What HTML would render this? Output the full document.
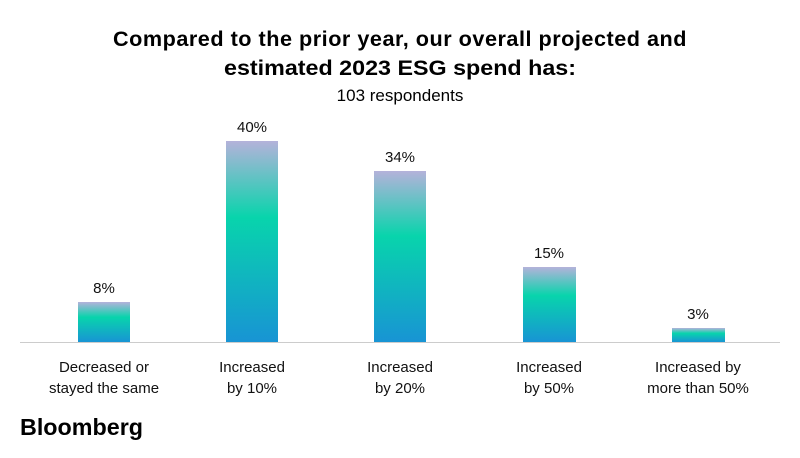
<!DOCTYPE html>
<html><head><style>
body{margin:0;background:#fff;}
svg text{font-family:"Liberation Sans",sans-serif;}
</style></head><body>
<svg width="800" height="453" viewBox="0 0 800 453" xmlns="http://www.w3.org/2000/svg">
<defs><linearGradient id="g" x1="0" y1="0" x2="0" y2="1">
<stop offset="0" stop-color="#b4b2da"/><stop offset="0.38" stop-color="#08d4ac"/><stop offset="1" stop-color="#1894d4"/></linearGradient></defs>
<rect width="800" height="453" fill="#fff"/>
<text x="400" y="46" text-anchor="middle" font-size="21" font-weight="bold" fill="#000" letter-spacing="0.5" textLength="574" lengthAdjust="spacingAndGlyphs">Compared to the prior year, our overall projected and</text>
<text x="400" y="75" text-anchor="middle" font-size="21" font-weight="bold" fill="#000" textLength="352" lengthAdjust="spacingAndGlyphs">estimated 2023 ESG spend has:</text>
<text x="400" y="101" text-anchor="middle" font-size="17" fill="#000">103 respondents</text>
<line x1="20" y1="342.5" x2="780" y2="342.5" stroke="#ccc" stroke-width="1"/>
<g fill="url(#g)">
<rect x="78" y="302" width="52" height="40"/>
<rect x="226" y="141" width="52" height="201"/>
<rect x="374" y="171" width="52" height="171"/>
<rect x="523" y="267" width="53" height="75"/>
<rect x="672" y="328" width="53" height="14"/>
</g>
<g font-size="15" text-anchor="middle" fill="#111">
<text x="104" y="293">8%</text>
<text x="252" y="132">40%</text>
<text x="400" y="162">34%</text>
<text x="549" y="258">15%</text>
<text x="698" y="319">3%</text>
<text x="104" y="372">Decreased or</text><text x="104" y="393">stayed the same</text>
<text x="252" y="372">Increased</text><text x="252" y="393">by 10%</text>
<text x="400" y="372">Increased</text><text x="400" y="393">by 20%</text>
<text x="549" y="372">Increased</text><text x="549" y="393">by 50%</text>
<text x="698" y="372">Increased by</text><text x="698" y="393">more than 50%</text>
</g>
<text x="20" y="435" font-size="23" font-weight="bold" fill="#000" textLength="123" lengthAdjust="spacingAndGlyphs">Bloomberg</text>
</svg>
</body></html>
